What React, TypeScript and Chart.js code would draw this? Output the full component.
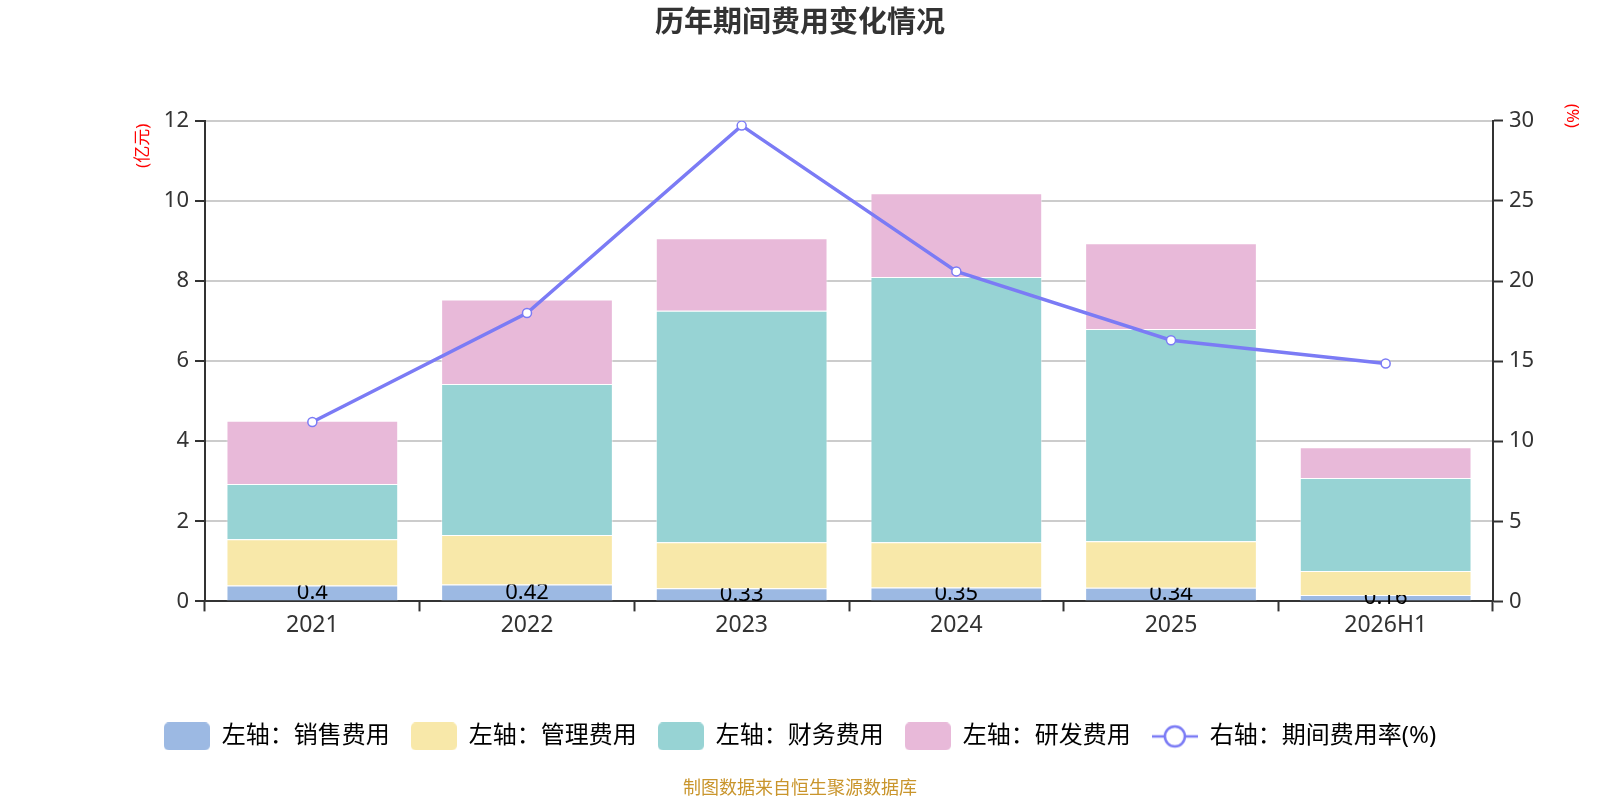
import { useEffect, useRef } from "react";
import { Chart, registerables, type Plugin } from "chart.js";

Chart.register(...registerables);

const FONT = '"Noto Sans", "Noto Sans CJK SC", sans-serif';

const CATEGORIES = ["2021", "2022", "2023", "2024", "2025", "2026H1"];
const SALES = [0.4, 0.42, 0.33, 0.35, 0.34, 0.16];
const ADMIN = [1.15, 1.24, 1.15, 1.13, 1.16, 0.6];
const FINANCE = [1.38, 3.77, 5.78, 6.62, 5.3, 2.32];
const RND = [1.58, 2.11, 1.81, 2.09, 2.14, 0.77];
const RATE = [11.2, 18.0, 29.7, 20.6, 16.3, 14.85];

const LEGEND_TEXT = [
  "左轴：销售费用",
  "左轴：管理费用",
  "左轴：财务费用",
  "左轴：研发费用",
  "右轴：期间费用率(%)",
];

const COLORS = ["#9cb9e3", "#f8e8a9", "#97d3d4", "#e8b9d9"];
const LINE_COLOR = "#7b7bf5";

function boxIcon(color: string) {
  const c = document.createElement("canvas");
  c.width = 46;
  c.height = 28;
  const g = c.getContext("2d")!;
  g.fillStyle = color;
  g.beginPath();
  g.roundRect(0, 0, 46, 28, 5);
  g.fill();
  return c;
}

function lineIcon() {
  const c = document.createElement("canvas");
  c.width = 46;
  c.height = 28;
  const g = c.getContext("2d")!;
  g.strokeStyle = LINE_COLOR;
  g.lineWidth = 2.5;
  g.beginPath();
  g.moveTo(0, 14);
  g.lineTo(46, 14);
  g.stroke();
  g.fillStyle = "#fff";
  g.beginPath();
  g.arc(23, 14, 10, 0, Math.PI * 2);
  g.fill();
  g.stroke();
  return c;
}

// 销售费用的数值标签：管理费用柱已画好，把它的矩形从裁剪区里挖掉，让标签被压住一截
const salesLabels: Plugin = {
  id: "salesLabels",
  afterDatasetDraw(chart, args) {
    if (args.index !== 0) return;
    const { ctx, width, height } = chart;
    const above = chart.getDatasetMeta(1).data;
    ctx.save();
    ctx.beginPath();
    ctx.rect(0, 0, width, height);
    above.forEach((bar) => {
      const p = bar.getProps(["x", "y", "base", "width"], true) as any;
      ctx.rect(p.x - p.width / 2, p.y, p.width, p.base - p.y);
    });
    ctx.clip("evenodd");
    ctx.font = `22px ${FONT}`;
    ctx.fillStyle = "#000";
    ctx.textAlign = "center";
    ctx.textBaseline = "middle";
    args.meta.data.forEach((bar, i) => {
      const { x, y, base } = bar.getProps(["x", "y", "base"], true) as any;
      ctx.fillText(String(SALES[i]), x, (y + base) / 2);
    });
    ctx.restore();
  },
};

const axisTitles: Plugin = {
  id: "axisTitles",
  afterDraw(chart) {
    const { ctx, chartArea } = chart;
    ctx.save();
    ctx.fillStyle = "#ff0000";
    ctx.font = `17px ${FONT}`;
    ctx.textAlign = "center";
    ctx.textBaseline = "middle";
    ctx.translate(chartArea.left - 62, chartArea.top + 25);
    ctx.rotate(-Math.PI / 2);
    ctx.fillText("(亿元)", 0, 0);
    ctx.restore();

    ctx.save();
    ctx.fillStyle = "#ff0000";
    ctx.font = `17px ${FONT}`;
    ctx.textAlign = "center";
    ctx.textBaseline = "middle";
    ctx.translate(chartArea.right + 79, chartArea.top - 5);
    ctx.rotate(Math.PI / 2);
    ctx.fillText("(%)", 0, 0);
    ctx.restore();
  },
};

export default function App() {
  const canvasRef = useRef<HTMLCanvasElement>(null);
  const chartRef = useRef<Chart | null>(null);

  useEffect(() => {
    document.body.style.margin = "0";
    if (!canvasRef.current) return;
    chartRef.current?.destroy();

    const icons = [...COLORS.map(boxIcon), lineIcon()];
    const barSet = (label: string, data: number[], i: number) => ({
      type: "bar" as const,
      label,
      data,
      backgroundColor: COLORS[i],
      borderColor: "rgba(255,255,255,0.5)",
      borderWidth: 1,
      yAxisID: "y",
      stack: "cost",
      order: 1,
      barPercentage: 1,
      categoryPercentage: 0.8,
    });

    chartRef.current = new Chart(canvasRef.current, {
      type: "bar",
      data: {
        labels: CATEGORIES,
        datasets: [
          barSet(LEGEND_TEXT[0], SALES, 0),
          barSet(LEGEND_TEXT[1], ADMIN, 1),
          barSet(LEGEND_TEXT[2], FINANCE, 2),
          barSet(LEGEND_TEXT[3], RND, 3),
          {
            type: "line" as const,
            label: LEGEND_TEXT[4],
            data: RATE,
            yAxisID: "y1",
            order: 0,
            borderColor: LINE_COLOR,
            borderWidth: 3.5,
            tension: 0,
            pointRadius: 4.5,
            pointBackgroundColor: "#fff",
            pointBorderColor: LINE_COLOR,
            pointBorderWidth: 1.5,
          } as any,
        ],
      },
      options: {
        responsive: false,
        animation: false,
        font: { family: FONT },
        layout: { padding: 0 },
        plugins: {
          title: {
            display: true,
            text: "历年期间费用变化情况",
            color: "#333",
            font: { size: 29, weight: "bold", family: FONT },
            padding: { top: 6, bottom: 80 },
          },
          subtitle: {
            display: true,
            position: "bottom",
            text: "制图数据来自恒生聚源数据库",
            color: "#c9952c",
            font: { size: 18, family: FONT },
            padding: { top: 20, bottom: 0 },
          },
          legend: {
            position: "bottom",
            labels: {
              usePointStyle: true,
              pointStyleWidth: 46,
              boxHeight: 28,
              padding: 21,
              color: "#333",
              font: { size: 24, family: FONT },
              generateLabels: () =>
                LEGEND_TEXT.map((text, i) => ({
                  text,
                  pointStyle: icons[i],
                  fillStyle: i < 4 ? COLORS[i] : "#fff",
                  strokeStyle: i < 4 ? COLORS[i] : LINE_COLOR,
                  lineWidth: 0,
                  hidden: false,
                  datasetIndex: i,
                })) as any,
            },
          },
          tooltip: { enabled: false },
        },
        scales: {
          x: {
            offset: true,
            grid: {
              offset: true,
              drawOnChartArea: false,
              tickLength: 10,
              tickColor: "#333",
              tickWidth: 2,
            },
            border: { color: "#333", width: 2 },
            ticks: { color: "#333", padding: 0, font: { size: 23, family: FONT } },
            afterFit: (s) => {
              s.height = 102;
            },
          },
          y: {
            position: "left",
            stacked: true,
            min: 0,
            max: 12,
            ticks: { stepSize: 2, color: "#333", padding: 6, font: { size: 22, family: FONT } },
            grid: { color: "#cccccc", lineWidth: 2, tickLength: 10, tickColor: "#333", tickWidth: 2 },
            border: { color: "#333", width: 2 },
            afterFit: (s) => {
              s.width = 205;
            },
          },
          y1: {
            position: "right",
            min: 0,
            max: 30,
            ticks: { stepSize: 5, color: "#333", padding: 6, font: { size: 22, family: FONT } },
            grid: { drawOnChartArea: false, tickLength: 10, tickColor: "#333", tickWidth: 2 },
            border: { color: "#333", width: 2 },
            afterFit: (s) => {
              s.width = 107;
            },
          },
        },
      },
      plugins: [salesLabels, axisTitles],
    });

    return () => {
      chartRef.current?.destroy();
      chartRef.current = null;
    };
  }, []);

  return (
    <div style={{ width: 1600, height: 800, background: "#fff" }}>
      <canvas ref={canvasRef} width={1600} height={800} style={{ display: "block" }} />
    </div>
  );
}
